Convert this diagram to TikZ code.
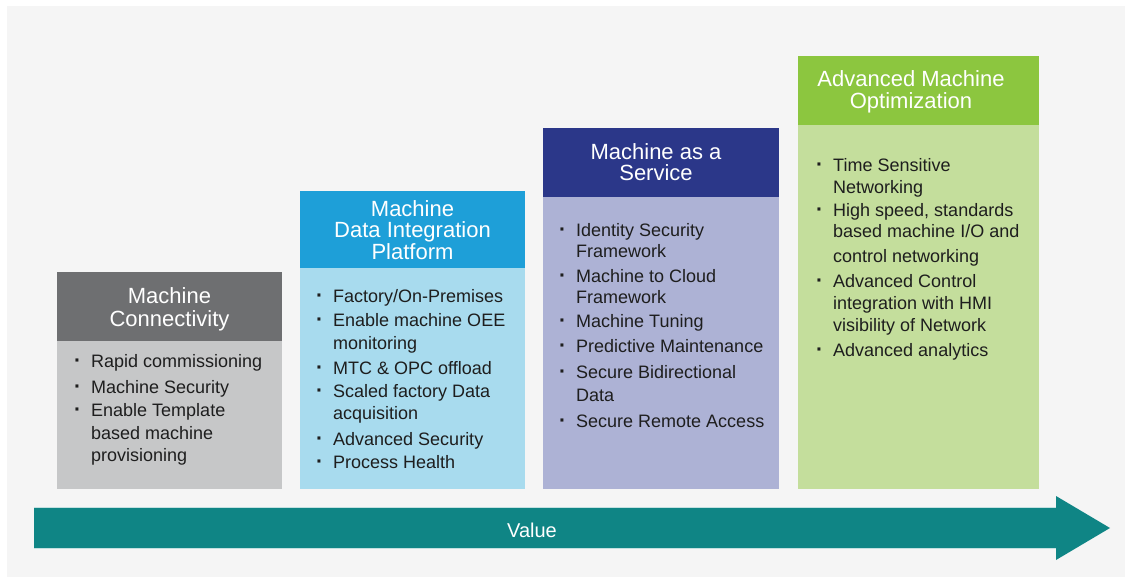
\documentclass[tikz,border=0pt]{standalone}
\usepackage{fontspec}
\setmainfont{Liberation Sans}
\definecolor{bgc}{HTML}{F5F5F5}
\definecolor{hA}{HTML}{6E6F71}\definecolor{bA}{HTML}{C6C7C8}
\definecolor{hB}{HTML}{1E9FD8}\definecolor{bB}{HTML}{A8DBEE}
\definecolor{hC}{HTML}{2B3789}\definecolor{bC}{HTML}{ADB2D5}
\definecolor{hD}{HTML}{8CC63F}\definecolor{bD}{HTML}{C4DE9C}
\definecolor{teal}{HTML}{0F8585}
\definecolor{txt}{HTML}{1E1E1E}
\newcommand\bul{\llap{{\bfseries\fontsize{21}{22}\selectfont ·}\hskip 10pt}}
\begin{document}
\begin{tikzpicture}[x=1pt,y=-1pt,
  panel/.style={draw=none,inner sep=0pt,outer sep=0pt,anchor=north west},
  hdrtxt/.style={inner sep=0pt,anchor=base,text=white,font=\fontsize{22}{22}\selectfont},
  bodytxt/.style={inner sep=0pt,anchor=base west,text=txt,font=\fontsize{18}{22}\selectfont},
  valtxt/.style={inner sep=0pt,anchor=base,text=white,font=\fontsize{20}{22}\selectfont}]
\useasboundingbox (0,0) rectangle (1125,577);
\fill[bgc] (7,6) rectangle (1125,577);
% panels
\node[panel,fill=hA,minimum width=225pt,minimum height=69pt] (h1) at (57,272) {};
\node[panel,fill=bA,minimum width=225pt,minimum height=148pt] (p1) at (57,341) {};
\node[panel,fill=hB,minimum width=225pt,minimum height=77pt] (h2) at (300,191) {};
\node[panel,fill=bB,minimum width=225pt,minimum height=221pt] (p2) at (300,268) {};
\node[panel,fill=hC,minimum width=236pt,minimum height=69pt] (h3) at (543,128) {};
\node[panel,fill=bC,minimum width=236pt,minimum height=292pt] (p3) at (543,197) {};
\node[panel,fill=hD,minimum width=241pt,minimum height=69pt] (h4) at (798,56) {};
\node[panel,fill=bD,minimum width=241pt,minimum height=364pt] (p4) at (798,125) {};
% headers
\foreach \yy/\tt [count=\i] in {304/Machine,327/Connectivity}
  \node[hdrtxt] (t1-\i) at (169.5,\yy) {\tt};
\foreach \yy/\tt [count=\i] in {217/Machine,238/Data Integration,260/Platform}
  \node[hdrtxt] (t2-\i) at (412.5,\yy) {\tt};
\foreach \yy/\tt [count=\i] in {160/Machine as a,181/Service}
  \node[hdrtxt] (t3-\i) at (656,\yy) {\tt};
\foreach \yy/\tt [count=\i] in {87/Advanced Machine,109/Optimization}
  \node[hdrtxt] (t4-\i) at (911,\yy) {\tt};
% bodies
\foreach \yy/\tt [count=\i] in {368/\bul Rapid commissioning,393/\bul Machine Security,
  417/\bul Enable Template,439/based machine,461/provisioning}
  \node[bodytxt] (l1-\i) at (91,\yy) {\tt};
\foreach \yy/\tt [count=\i] in {303/{\bul Factory/On-Premises},327/\bul Enable machine OEE,
  350/monitoring,374/\bul MTC \& OPC offload,398/\bul Scaled factory Data,420/acquisition,
  445/\bul Advanced Security,468/\bul Process Health}
  \node[bodytxt] (l2-\i) at (333,\yy) {\tt};
\foreach \yy/\tt [count=\i] in {237/\bul Identity Security,258/Framework,283/\bul Machine to Cloud,
  304/Framework,328/\bul Machine Tuning,353/\bul Predictive Maintenance,
  378/\bul Secure Bidirectional,402/Data,427/\bul Secure Remote Access}
  \node[bodytxt] (l3-\i) at (576,\yy) {\tt};
\foreach \yy/\tt [count=\i] in {172/\bul Time Sensitive,194/Networking,217/{\bul High speed, standards},
  238/{based machine I/O and},263/control networking,288/\bul Advanced Control,
  310/integration with HMI,332/visibility of Network,357/\bul Advanced analytics}
  \node[bodytxt] (l4-\i) at (833,\yy) {\tt};
% value arrow
\fill[teal] (34,507) -- (1056,507) -- (1056,496) -- (1110,528) -- (1056,560)
  -- (1056,548) -- (34,548) -- cycle;
\draw[white!75!teal,line width=0.8pt] (34,507) -- (1056,507) (34,548) -- (1056,548);
\node[valtxt] (val) at (532,537) {Value};
\end{tikzpicture}
\end{document}
